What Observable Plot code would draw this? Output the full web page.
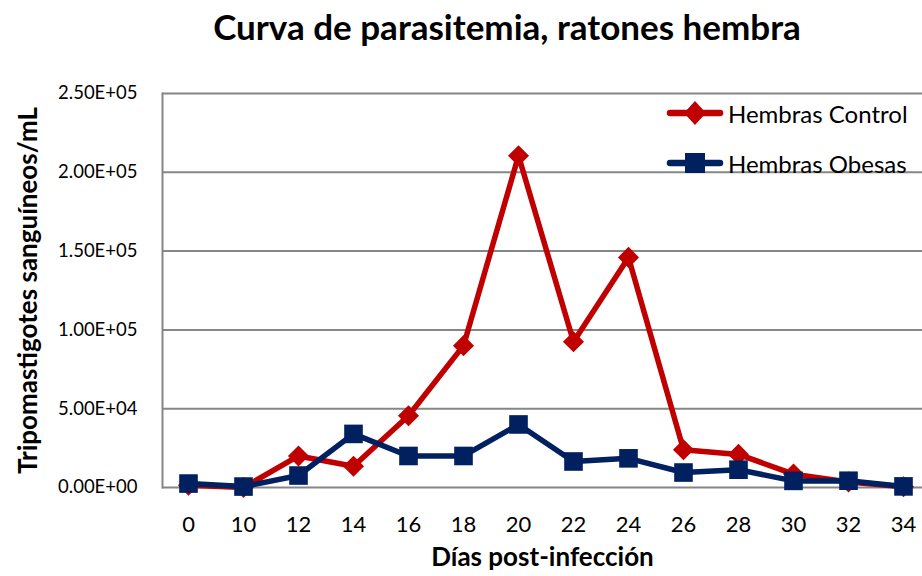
<!DOCTYPE html>
<html>
<head>
<meta charset="utf-8">
<script src="https://cdn.jsdelivr.net/npm/d3@7"></script>
<script src="https://cdn.jsdelivr.net/npm/@observablehq/plot@0.6"></script>
<style>
  html, body { margin: 0; padding: 0; background: #fff; }
  body { width: 922px; height: 576px; position: relative; overflow: hidden; font-family: Lato, "Open Sans", sans-serif; }
  #title { position: absolute; left: 0; top: 5px; width: 1014px; text-align: center; font-size: 35px; font-weight: bold; color: #000; }
  #chart { position: absolute; left: 0; top: 60px; }
  .lg { position: absolute; left: 666px; display: flex; align-items: center; height: 30px; font-size: 24px; color: #000; }
  .lg svg { margin-right: 4px; }
</style>
</head>
<body>
<div id="title">Curva de parasitemia, ratones hembra</div>
<div id="chart"></div>
<div id="legend"></div>
<script>
const days = ["0","10","12","14","16","18","20","22","24","26","28","30","32","34"];
const control = [1500, 0, 20000, 13500, 45500, 90000, 210500, 92500, 146000, 24000, 21000, 8500, 3500, 500];
const obesas = [2500, 600, 7600, 34000, 20000, 20000, 40000, 16500, 18500, 9500, 11300, 4200, 4300, 700];
const seriesNames = ["Hembras Control", "Hembras Obesas"];
const seriesColors = ["#C00000", "#002060"];
const yTicks = [0, 50000, 100000, 150000, 200000, 250000];

const data = [];
days.forEach((d, i) => {
  data.push({day: d, value: control[i], series: seriesNames[0]});
  data.push({day: d, value: obesas[i], series: seriesNames[1]});
});

function sci(v) {
  const [m, e] = v.toExponential(2).split("e");
  const sign = e[0] === "-" ? "-" : "+";
  const digits = e.replace(/^[+-]/, "").padStart(2, "0");
  return m + "E" + sign + digits;
}

const grid = "#868686";
const plot = Plot.plot({
  width: 922,
  height: 516,
  marginLeft: 162,
  marginRight: 0,
  marginTop: 33,
  marginBottom: 89,
  style: {fontFamily: "Lato, 'Open Sans', sans-serif", fontSize: "20px", color: "#000", background: "#fff", overflow: "visible"},
  x: {type: "point", domain: days, range: [186, 904], padding: 0},
  y: {domain: [0, 250000]},
  color: {domain: seriesNames, range: seriesColors},
  marks: [
    Plot.ruleY(yTicks, {stroke: grid, strokeWidth: 2}),
    Plot.frame({anchor: "left", stroke: grid, strokeWidth: 2}),
    Plot.axisY({ticks: yTicks, tickFormat: sci, tickSize: 0, tickPadding: 25, fontSize: 18.5, label: null}),
    Plot.axisX({tickSize: 0, tickPadding: 29, fontSize: 22, label: null}),
    Plot.line(data.filter(d => d.series === seriesNames[0]), {x: "day", y: "value", stroke: seriesColors[0], strokeWidth: 5.5}),
    Plot.dot(data.filter(d => d.series === seriesNames[0]), {x: "day", y: "value", symbol: "diamond2", r: 9.5, fill: seriesColors[0], stroke: "none"}),
    Plot.line(data.filter(d => d.series === seriesNames[1]), {x: "day", y: "value", stroke: seriesColors[1], strokeWidth: 5.5}),
    Plot.dot(data.filter(d => d.series === seriesNames[1]), {x: "day", y: "value", symbol: "square", r: 10.5, fill: seriesColors[1], stroke: "none"}),
    Plot.text(["Tripomastigotes sanguíneos/mL"], {frameAnchor: "left", textAnchor: "middle", dx: -134, rotate: -90, fontWeight: "bold", fontSize: 26}),
    Plot.text(["Días post-infección"], {frameAnchor: "bottom", dy: 78, fontWeight: "bold", fontSize: 26})
  ]
});
document.getElementById("chart").appendChild(plot);

const legend = document.getElementById("legend");
const legendTops = [98, 148];
seriesNames.forEach((name, i) => {
  const row = document.createElement("div");
  row.className = "lg";
  row.style.top = legendTops[i] + "px";
  const sym = i === 0
    ? `<path d="M29 2 L40 14 L29 26 L18 14 Z" fill="${seriesColors[i]}"/>`
    : `<rect x="19" y="4" width="20" height="20" fill="${seriesColors[i]}"/>`;
  row.innerHTML = `<svg width="58" height="28"><line x1="4" y1="14" x2="54" y2="14" stroke="${seriesColors[i]}" stroke-width="6.5" stroke-linecap="round"/>${sym}</svg><span>${name}</span>`;
  legend.appendChild(row);
});
</script>
</body>
</html>
